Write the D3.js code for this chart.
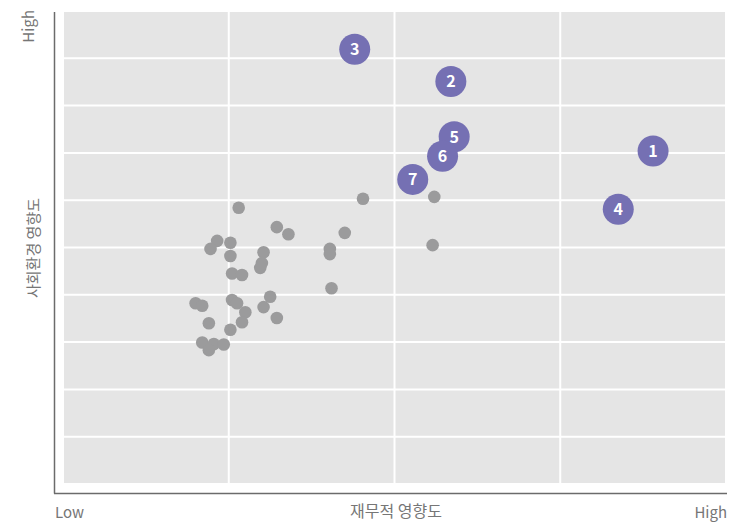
<!DOCTYPE html>
<html>
<head>
<meta charset="utf-8">
<script src="https://cdn.jsdelivr.net/npm/d3@7"></script>
<style>
  body { margin: 0; background: #ffffff; }
  text { font-family: "Noto Sans CJK KR", "Noto Sans", sans-serif; }
</style>
</head>
<body>
<div id="chart"></div>
<script>
//Impact matrix scatter

//data
const otherX = [1.06, 1.29, 1.36, 0.93, 1.01, 0.89, 1.01, 1.21, 1.20, 1.19, 1.02, 1.08,
                0.80, 0.84, 1.02, 1.05, 1.25, 1.21, 1.10, 1.08, 1.29, 0.88, 1.01,
                0.84, 0.91, 0.97, 0.88, 1.81, 1.70, 1.61, 1.61, 1.62, 2.24, 2.23];
const otherY = [5.84, 5.43, 5.28, 5.14, 5.10, 4.97, 4.82, 4.90, 4.67, 4.57, 4.45, 4.42,
                3.82, 3.77, 3.89, 3.82, 3.96, 3.74, 3.63, 3.42, 3.51, 3.40, 3.26,
                2.99, 2.96, 2.95, 2.83, 6.03, 5.31, 4.97, 4.86, 4.14, 6.07, 5.05];
const topLabels = ["1", "2", "3", "4", "5", "6", "7"];
const topX = [3.56, 2.34, 1.76, 3.35, 2.36, 2.29, 2.11];
const topY = [7.04, 8.51, 9.19, 5.81, 7.34, 6.93, 6.44];
const xTicks = [0, 1, 2, 3, 4];
const yTicks = [0, 1, 2, 3, 4, 5, 6, 7, 8, 9, 10];
const xTitle = "재무적 영향도";
const yTitle = "사회환경 영향도";
const lowLabel = "Low";
const highLabel = "High";

//dimensions
const mx_width = 731;
const mx_height = 524;
const mx_panel = {left: 63, right: 726, top: 11, bottom: 484};
const mx_colorPanel = "#e5e5e5";
const mx_colorGrid = "#ffffff";
const mx_colorAxis = "#6b6b6b";
const mx_colorText = "#767676";
const mx_colorDot = "#9b9b9c";
const mx_colorTop = "#7570b3";

let svg = d3.select("#chart")
    .append("svg")
    .attr("width", mx_width)
    .attr("height", mx_height);

let x = d3.scaleLinear()
    .domain([0, 4])
    .range([mx_panel.left, mx_panel.right]);

let y = d3.scaleLinear()
    .domain([0, 10])
    .range([mx_panel.bottom, mx_panel.top]);

//panel background
svg.append("rect")
    .attr("x", mx_panel.left)
    .attr("y", mx_panel.top)
    .attr("width", mx_panel.right - mx_panel.left)
    .attr("height", mx_panel.bottom - mx_panel.top)
    .attr("fill", mx_colorPanel);

//grid
svg.append("g")
    .selectAll("line")
    .data(yTicks)
    .enter()
    .append("line")
    .attr("x1", mx_panel.left)
    .attr("x2", mx_panel.right)
    .attr("y1", d => y(d))
    .attr("y2", d => y(d))
    .attr("stroke", mx_colorGrid)
    .attr("stroke-width", 2);

svg.append("g")
    .selectAll("line")
    .data(xTicks)
    .enter()
    .append("line")
    .attr("x1", d => x(d))
    .attr("x2", d => x(d))
    .attr("y1", mx_panel.top)
    .attr("y2", mx_panel.bottom)
    .attr("stroke", mx_colorGrid)
    .attr("stroke-width", 2);

//axis lines
svg.append("line")
    .attr("x1", 54.5).attr("x2", 54.5)
    .attr("y1", 12).attr("y2", 493.5)
    .attr("stroke", mx_colorAxis)
    .attr("stroke-width", 1.5);

svg.append("line")
    .attr("x1", 54).attr("x2", 727)
    .attr("y1", 493.5).attr("y2", 493.5)
    .attr("stroke", mx_colorAxis)
    .attr("stroke-width", 1.5);

//other dots
svg.append("g")
    .selectAll("circle")
    .data(otherX)
    .enter()
    .append("circle")
    .attr("cx", d => x(d))
    .attr("cy", (d, i) => y(otherY[i]))
    .attr("r", 6.3)
    .attr("fill", mx_colorDot);

//numbered dots
let tops = svg.append("g")
    .selectAll("g")
    .data(topLabels)
    .enter()
    .append("g")
    .attr("transform", (d, i) => `translate(${x(topX[i])},${y(topY[i])})`);

tops.append("circle")
    .attr("r", 15.5)
    .attr("fill", mx_colorTop);

tops.append("text")
    .attr("dy", "0.36em")
    .style("text-anchor", "middle")
    .style("font-size", "16px")
    .style("font-weight", "bold")
    .attr("fill", "#ffffff")
    .text(d => d);

//labels
svg.append("text")
    .attr("x", 55)
    .attr("y", 518)
    .style("font-size", "15px")
    .attr("fill", mx_colorText)
    .text(lowLabel);

svg.append("text")
    .attr("x", 727)
    .attr("y", 518)
    .style("font-size", "15px")
    .style("text-anchor", "end")
    .attr("fill", mx_colorText)
    .text(highLabel);

svg.append("text")
    .attr("x", 396)
    .attr("y", 517)
    .style("font-size", "16px")
    .style("text-anchor", "middle")
    .attr("fill", mx_colorText)
    .text(xTitle);

svg.append("text")
    .attr("transform", "translate(34,10) rotate(-90)")
    .style("font-size", "15px")
    .style("text-anchor", "end")
    .attr("fill", mx_colorText)
    .text(highLabel);

svg.append("text")
    .attr("transform", "translate(39,248) rotate(-90)")
    .style("font-size", "15px")
    .style("text-anchor", "middle")
    .attr("fill", mx_colorText)
    .text(yTitle);
</script>
</body>
</html>
